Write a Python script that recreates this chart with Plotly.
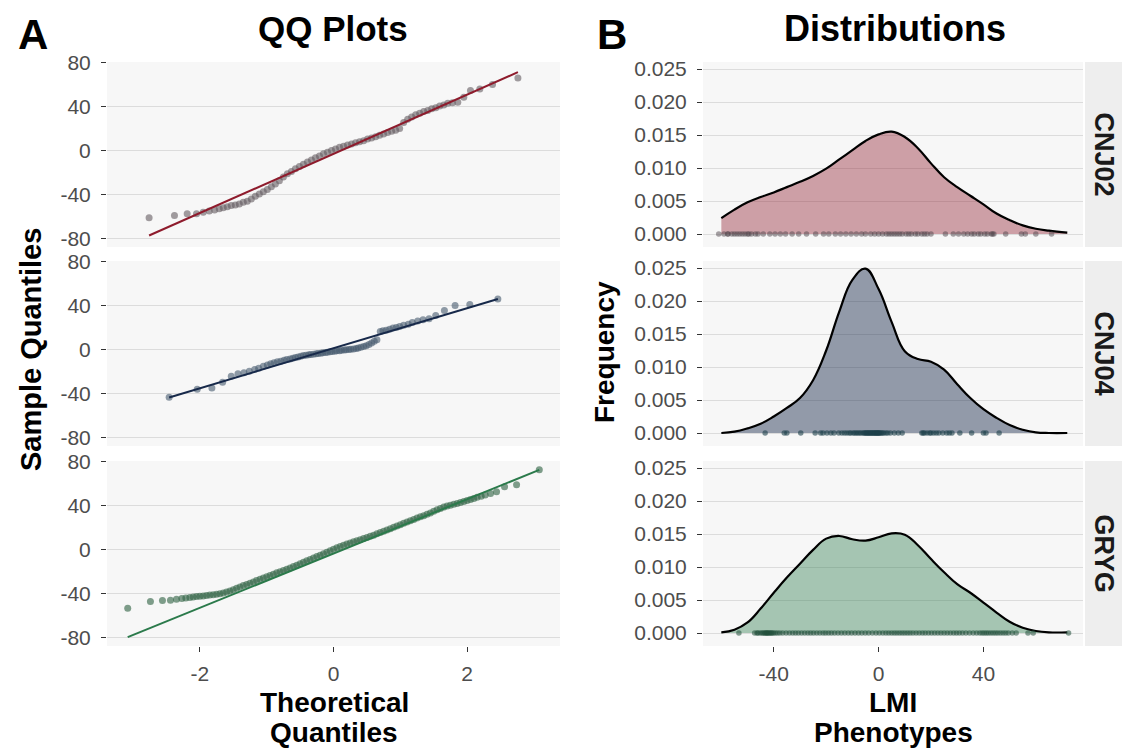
import plotly.graph_objects as go

W, H = 1122, 748
FONT = "Liberation Sans, Arial, Helvetica, sans-serif"

groups = ["CNJ02", "CNJ04", "GRYG"]

# ---------------- Panel A: QQ data (theoretical, sample) ----------------
cnj02_theo = [-2.76, -2.38, -2.19, -2.05, -1.95, -1.86, -1.78, -1.71, -1.65, -1.59,
              -1.53, -1.47, -1.41, -1.35,
              -1.29, -1.23, -1.17, -1.11, -1.05, -0.99, -0.93, -0.87, -0.81, -0.75,
              -0.69, -0.63, -0.57, -0.51, -0.45, -0.39, -0.33, -0.27, -0.21, -0.15,
              -0.09, -0.03, 0.03, 0.09, 0.15, 0.21, 0.27, 0.33, 0.39, 0.45,
              0.51, 0.57, 0.63, 0.69, 0.75, 0.81, 0.87, 0.93, 0.99, 1.05,
              1.11, 1.17, 1.23, 1.29, 1.35, 1.41, 1.47, 1.53, 1.59, 1.65,
              1.71,
              1.78, 1.86, 1.95, 2.05, 2.19, 2.38, 2.76]
cnj02_sample = [-61, -59, -57.5, -57.5, -56, -55, -54, -53, -52, -51,
                -50, -49.5, -48.5, -47,
                -46, -44, -41.5, -39.5, -37.5, -35.5, -33, -30.5, -27.5, -24,
                -21, -19, -16.5, -14.5, -12.5, -10.5, -8.5, -6.5, -5, -3,
                -1.5, 0, 1.5, 3, 4, 5, 6, 7, 8, 9,
                10.5, 11.5, 12.5, 14, 15, 16.5, 17.5, 18.5, 20, 25.5,
                28.5, 30.5, 32.5, 34, 35.5, 36.5, 38, 39, 40.5, 41.5,
                43,
                43.5, 44, 48.5, 54.5, 56, 60, 66]

cnj04_theo = [-2.46, -2.04, -1.82, -1.66, -1.53, -1.43, -1.34, -1.26, -1.18, -1.12,
              -1.05, -0.99, -0.94, -0.89, -0.84, -0.79, -0.74, -0.70, -0.65, -0.61,
              -0.57, -0.53, -0.49, -0.45, -0.41, -0.37, -0.34, -0.30, -0.26, -0.23,
              -0.19, -0.16, -0.12, -0.09, -0.05, -0.02,
              0.02, 0.05, 0.09, 0.12, 0.16, 0.19, 0.23, 0.26, 0.30, 0.34,
              0.37, 0.41, 0.45, 0.49, 0.53, 0.57, 0.61, 0.65, 0.70, 0.74,
              0.79, 0.84, 0.89, 0.94, 0.99, 1.05, 1.12, 1.18, 1.26, 1.34,
              1.43, 1.53, 1.66, 1.82, 2.04, 2.46]
cnj04_sample = [-43.3, -36.0, -35.0, -29.7, -24.2, -22.1, -21.2, -19.7, -18.2, -17.0,
                -15.2, -14.0, -13.0, -12.1, -11.2, -10.6, -9.7, -9.1, -8.5, -7.9,
                -7.3, -6.7, -6.0, -5.5, -5.2, -4.8, -4.5, -4.2, -3.9, -3.6,
                -3.3, -3.0, -2.7, -2.4, -2.1, -1.8,
                -1.5, -1.2, -1.0, -0.7, -0.4, -0.2, 0.0, 0.3, 0.6, 1.0,
                1.5, 2.0, 2.8, 3.5, 4.5, 6.0, 7.5, 9.0, 16.5, 17.0,
                17.5, 18.5, 19.5, 20.0, 21.0, 22.0, 23.0, 24.5, 26.0, 27.0,
                28.0, 31.0, 35.5, 40.0, 41.0, 46.0]

gryg_theo = [-3.08, -2.74, -2.56, -2.44, -2.35, -2.27, -2.21, -2.15, -2.10, -2.05,
             -2.00, -1.95, -1.90, -1.85, -1.80, -1.75, -1.70, -1.65, -1.60, -1.55,
             -1.50, -1.45, -1.40, -1.35, -1.30, -1.25, -1.20, -1.15, -1.10, -1.05,
             -1.00, -0.95, -0.90, -0.85, -0.80, -0.75, -0.70, -0.65, -0.60, -0.55,
             -0.50, -0.45, -0.40, -0.35, -0.30, -0.25, -0.20, -0.15, -0.10, -0.05,
             0.00, 0.05, 0.10, 0.15, 0.20, 0.25, 0.30, 0.35, 0.40, 0.45,
             0.50, 0.55, 0.60, 0.65, 0.70, 0.75, 0.80, 0.85, 0.90, 0.95,
             1.00, 1.05, 1.10, 1.15, 1.20, 1.25, 1.30, 1.35, 1.40, 1.45,
             1.50, 1.55, 1.60, 1.65, 1.70, 1.75, 1.80, 1.85, 1.90, 1.95,
             2.00, 2.05, 2.10, 2.15, 2.21, 2.27, 2.35, 2.44, 2.56, 2.74, 3.08]
gryg_sample = [-53.3, -47.3, -46.4, -46.0, -45.2, -44.5, -44.0, -43.5, -43.1, -42.8,
               -42.5, -42.2, -41.8, -41.4, -41.0, -40.6, -40.1, -39.4, -38.6, -37.7,
               -36.6, -35.3, -34.0, -32.8, -31.7, -30.6, -29.4, -28.2, -27.0, -25.9,
               -24.8, -23.6, -22.4, -21.2, -20.2, -19.1, -18.0, -16.8, -15.5, -14.2,
               -12.9, -11.6, -10.3, -9.0, -7.7, -6.4, -5.1, -3.8, -2.4, -1.0,
               0.3, 1.6, 2.8, 3.9, 5.0, 6.0, 7.0, 8.0, 9.0, 10.0,
               11.0, 12.0, 13.1, 14.3, 15.5, 16.7, 17.8, 19.0, 20.2, 21.4,
               22.6, 23.8, 25.0, 26.2, 27.4, 28.6, 29.7, 30.8, 32.0, 33.3,
               34.7, 36.1, 37.4, 38.6, 39.5, 40.3, 41.1, 41.9, 42.8, 43.7,
               44.6, 45.5, 46.5, 47.5, 48.5, 49.5, 51.0, 52.5, 57.0, 59.0, 72.5]

# QQ reference line parameters (intercept, slope)
qq_intercept = [-3.0, 1.2, -3.6]
qq_slope = [26.9, 18.2, 24.7]

# ---------------- Panel B: density curves ----------------
dens_x = [-60, -55, -50, -45, -40, -35, -30, -25, -20, -15, -10, -5, 0, 5, 10,
          15, 20, 25, 30, 35, 40, 45, 50, 55, 60, 65, 72]
cnj02_dens = [0.0024, 0.0037, 0.0048, 0.0056, 0.0063, 0.0071, 0.0079, 0.0088, 0.0099,
              0.0113, 0.0127, 0.0141, 0.0151, 0.0155, 0.0147, 0.0130, 0.0107, 0.0086,
              0.0071, 0.0058, 0.0045, 0.0031, 0.0021, 0.0013, 0.0008, 0.0005, 0.0002]
cnj04_dens = [0.0000, 0.0002, 0.0007, 0.0014, 0.0025, 0.0038, 0.0053, 0.0080, 0.0125,
              0.0184, 0.0232, 0.0249, 0.0218, 0.0168, 0.0124, 0.0112, 0.0108, 0.0096,
              0.0074, 0.0053, 0.0036, 0.0023, 0.0012, 0.0005, 0.0001, 0.0000, 0.0000]
gryg_dens = [0.0001, 0.0005, 0.0016, 0.0037, 0.0061, 0.0084, 0.0105, 0.0126, 0.0143,
             0.0147, 0.0142, 0.0140, 0.0145, 0.0151, 0.0149, 0.0133, 0.0112, 0.0092,
             0.0074, 0.0061, 0.0046, 0.0031, 0.0017, 0.0008, 0.0003, 0.0001, 0.0001]

qq_yticks = [-80, -40, 0, 40, 80]
qq_xticks = [-2, 0, 2]
dens_yticks = [0, 0.005, 0.010, 0.015, 0.020, 0.025]
dens_yticklabels = ["0.000", "0.005", "0.010", "0.015", "0.020", "0.025"]
dens_xticks = [-40, 0, 40]

# ---------------- styles ----------------
line_colors = ["#8E1B2C", "#17294A", "#2B7A4B"]
qq_point_colors = ["rgba(100,92,96,0.6)", "rgba(70,90,110,0.6)", "rgba(50,100,70,0.62)"]
fill_colors = ["rgba(142,27,44,0.40)", "rgba(23,41,74,0.45)", "rgba(43,122,75,0.40)"]
rug_colors = ["rgba(80,70,75,0.5)", "rgba(30,65,75,0.6)", "rgba(35,80,60,0.55)"]

qq_theo = [cnj02_theo, cnj04_theo, gryg_theo]
qq_sample = [cnj02_sample, cnj04_sample, gryg_sample]
dens_y = [cnj02_dens, cnj04_dens, gryg_dens]

rows_px = [(62, 247), (261, 446), (461, 646)]
A_px = (107, 560)
B_px = (703, 1083)


def fx(p):
    return p / W


def fy(p):
    return 1 - p / H


fig = go.Figure()

for i in range(3):
    xa = "x" if i == 0 else f"x{i + 1}"
    ya = "y" if i == 0 else f"y{i + 1}"
    fig.add_trace(go.Scatter(x=qq_theo[i], y=qq_sample[i], mode="markers",
                             marker=dict(size=7, color=qq_point_colors[i], line=dict(width=0)),
                             xaxis=xa, yaxis=ya, showlegend=False, hoverinfo="skip"))
    lx = [min(qq_theo[i]), max(qq_theo[i])]
    ly = [qq_intercept[i] + qq_slope[i] * v for v in lx]
    fig.add_trace(go.Scatter(x=lx, y=ly, mode="lines",
                             line=dict(color=line_colors[i], width=2),
                             xaxis=xa, yaxis=ya, showlegend=False, hoverinfo="skip"))

for i in range(3):
    xa = f"x{i + 4}"
    ya = f"y{i + 4}"
    fig.add_trace(go.Scatter(x=dens_x, y=dens_y[i], mode="lines",
                             line=dict(color="black", width=2.2, shape="spline", smoothing=1.2),
                             fill="tozeroy", fillcolor=fill_colors[i],
                             xaxis=xa, yaxis=ya, showlegend=False, hoverinfo="skip"))
    fig.add_trace(go.Scatter(x=qq_sample[i], y=[0] * len(qq_sample[i]), mode="markers",
                             marker=dict(size=5.5, color=rug_colors[i], line=dict(width=0)),
                             xaxis=xa, yaxis=ya, showlegend=False, hoverinfo="skip"))

tickfont = dict(family=FONT, size=21, color="#4D4D4D")
common_y = dict(ticks="outside", ticklen=5, tickwidth=1.3, tickcolor="#333333",
                showgrid=True, gridcolor="#DCDCDC", gridwidth=1.3, zeroline=False,
                showline=False, tickfont=tickfont, tickmode="array",
                fixedrange=True, ticklabelstandoff=6, automargin=False)
common_x = dict(showgrid=False, zeroline=False, showline=False, tickfont=tickfont,
                tickmode="array", fixedrange=True, automargin=False)

layout = dict(width=W, height=H,
              margin=dict(l=0, r=0, t=0, b=0, pad=0, autoexpand=False),
              paper_bgcolor="white", plot_bgcolor="#F7F7F7", showlegend=False,
              font=dict(family=FONT))

for i in range(3):
    top, bot = rows_px[i]
    xk = "xaxis" if i == 0 else f"xaxis{i + 1}"
    yk = "yaxis" if i == 0 else f"yaxis{i + 1}"
    ya = "y" if i == 0 else f"y{i + 1}"
    xa = "x" if i == 0 else f"x{i + 1}"
    bottom = (i == 2)
    layout[xk] = dict(common_x, domain=[fx(A_px[0]), fx(A_px[1])], range=[-3.39, 3.39],
                      anchor=ya, tickvals=qq_xticks, ticktext=[str(v) for v in qq_xticks],
                      showticklabels=bottom, ticks="outside" if bottom else "",
                      ticklen=5, tickwidth=1.3, tickcolor="#333333", ticklabelstandoff=4)
    layout[yk] = dict(common_y, domain=[fy(bot), fy(top)], range=[-87.7, 80.5], anchor=xa,
                      tickvals=qq_yticks, ticktext=[str(v) for v in qq_yticks])
    xk = f"xaxis{i + 4}"
    yk = f"yaxis{i + 4}"
    layout[xk] = dict(common_x, domain=[fx(B_px[0]), fx(B_px[1])], range=[-67, 78],
                      anchor=f"y{i + 4}", tickvals=dens_xticks,
                      ticktext=[str(v) for v in dens_xticks],
                      showticklabels=bottom, ticks="outside" if bottom else "",
                      ticklen=5, tickwidth=1.3, tickcolor="#333333", ticklabelstandoff=4)
    layout[yk] = dict(common_y, domain=[fy(bot), fy(top)], range=[-0.00197, 0.02606],
                      anchor=f"x{i + 4}", tickvals=dens_yticks, ticktext=dens_yticklabels)

shapes = []
annotations = []
for i in range(3):
    top, bot = rows_px[i]
    shapes.append(dict(type="rect", xref="paper", yref="paper",
                       x0=fx(1085), x1=fx(1122), y0=fy(bot), y1=fy(top),
                       fillcolor="#EEEEEE", line=dict(width=0), layer="below"))
    annotations.append(dict(text=f"<b>{groups[i]}</b>", xref="paper", yref="paper",
                            x=fx(1104), y=fy((top + bot) / 2), textangle=90,
                            showarrow=False, xanchor="center", yanchor="middle",
                            font=dict(family=FONT, size=27, color="#1A1A1A")))


def ann(text, x, y, size, angle=0, xanchor="center"):
    annotations.append(dict(text=text, xref="paper", yref="paper", x=fx(x), y=fy(y),
                            showarrow=False, xanchor=xanchor, yanchor="middle",
                            textangle=angle, font=dict(family=FONT, size=size, color="black")))


ann("<b>A</b>", 16, 35, 42, xanchor="left")
ann("<b>B</b>", 595, 35, 42, xanchor="left")
ann("<b>QQ Plots</b>", 333, 28, 35)
ann("<b>Distributions</b>", 895, 28, 36)
ann("<b>Sample Quantiles</b>", 31, 350, 29, angle=-90)
ann("<b>Frequency</b>", 604, 352, 28, angle=-90)
ann("<b>Theoretical</b>", 334, 702, 28)
ann("<b>Quantiles</b>", 334, 732, 28)
ann("<b>LMI</b>", 893, 702, 28)
ann("<b>Phenotypes</b>", 893, 732, 28)

layout["shapes"] = shapes
layout["annotations"] = annotations
fig.update_layout(**layout)

fig.write_html("out.html")
